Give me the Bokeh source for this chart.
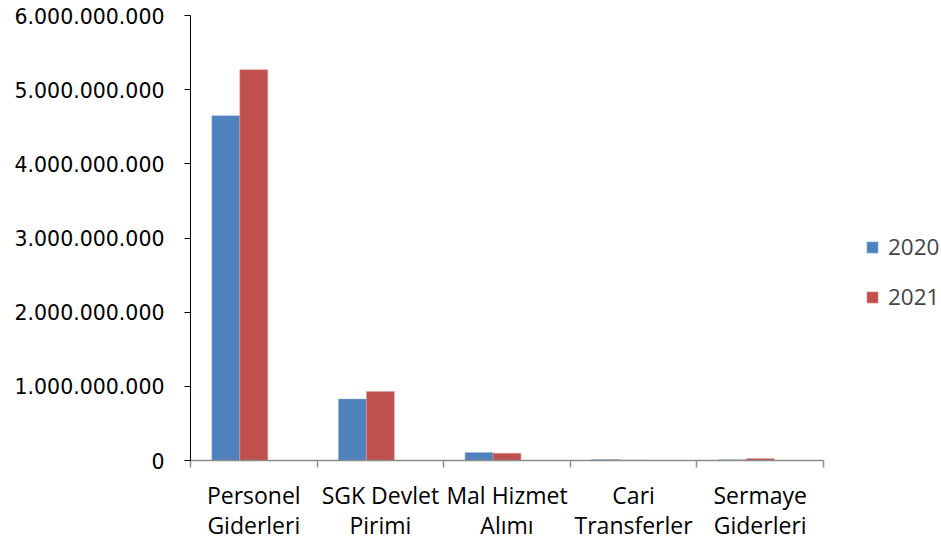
from bokeh.plotting import figure
from bokeh.models import ColumnDataSource, FixedTicker, Range1d, Legend, LegendItem
from bokeh.embed import file_html
from bokeh.resources import INLINE

categories = ["Personel\nGiderleri", "SGK Devlet\nPirimi", "Mal Hizmet\nAlımı", "Cari\nTransferler", "Sermaye\nGiderleri"]
values_2020 = [4650000000, 830000000, 108000000, 13000000, 10000000]
values_2021 = [5270000000, 930000000, 98000000, 5000000, 27000000]
series_names = ["2020", "2021"]
y_ticks = [0, 1000000000, 2000000000, 3000000000, 4000000000, 5000000000, 6000000000]
y_tick_labels = ["0", "1.000.000.000", "2.000.000.000", "3.000.000.000", "4.000.000.000", "5.000.000.000", "6.000.000.000"]

FONT = "Open Sans"
BLUE = "#4F81BD"
RED = "#C0504D"

n = len(categories)
centers = [i + 0.5 for i in range(n)]
bw = 0.221
src = ColumnDataSource(dict(
    x1=[c - bw for c in centers], x2=[c for c in centers],
    v1=values_2020, v2=values_2021))

p = figure(frame_width=633, frame_height=445, output_backend="svg", toolbar_location=None,
           x_range=Range1d(0, n), y_range=Range1d(0, 6000000000),
           min_border_left=190, min_border_right=0, min_border_top=15, min_border_bottom=76)
p.outline_line_color = None
p.xgrid.visible = False
p.ygrid.visible = False

r1 = p.vbar(x="x1", top="v1", width=bw, source=src, fill_color=BLUE, line_color="#9DB8DA", line_width=0.5)
r2 = p.vbar(x="x2", top="v2", width=bw, source=src, fill_color=RED, line_color="#E0A5A3", line_width=0.5)

ya = p.yaxis[0]
ya.ticker = FixedTicker(ticks=y_ticks, minor_ticks=[])
ya.major_label_overrides = {t: l for t, l in zip(y_ticks, y_tick_labels)}
ya.axis_line_color = "black"
ya.major_tick_line_color = "black"
ya.major_tick_out = 6
ya.major_tick_in = 0
ya.minor_tick_out = 0
ya.minor_tick_in = 0
ya.major_label_standoff = 20
ya.major_label_text_font = "DejaVu Sans"
ya.major_label_text_font_size = "20.5px"
ya.major_label_text_color = "black"

xa = p.xaxis[0]
xa.ticker = FixedTicker(ticks=centers, minor_ticks=list(range(n + 1)))
xa.major_label_overrides = {c: l for c, l in zip(centers, categories)}
xa.axis_line_color = "#8C8C8C"
xa.axis_line_width = 1.5
xa.major_tick_out = 0
xa.major_tick_in = 0
xa.minor_tick_line_color = "#8C8C8C"
xa.minor_tick_line_width = 1.5
xa.minor_tick_out = 7
xa.minor_tick_in = 0
xa.major_label_standoff = 11
xa.major_label_text_font = FONT
xa.major_label_text_font_size = "23px"
xa.major_label_text_line_height = 0.95
xa.major_label_text_color = "black"

legend = Legend(items=[LegendItem(label=series_names[0], renderers=[r1]),
                       LegendItem(label=series_names[1], renderers=[r2])],
                location=(42, 148), padding=0, margin=0, spacing=19,
                glyph_width=14, glyph_height=14, label_height=20, label_standoff=9,
                label_text_font=FONT, label_text_font_size="22.5px",
                border_line_color=None, background_fill_alpha=0)
p.add_layout(legend, "right")

open("out.html", "w").write(file_html(p, INLINE))
